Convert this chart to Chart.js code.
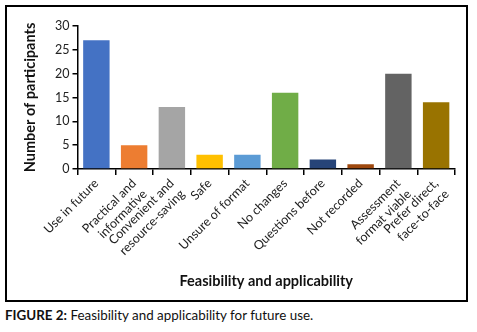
<!DOCTYPE html>
<html>
<head>
<meta charset="utf-8">
<script src="https://cdn.jsdelivr.net/npm/chart.js@4.4.1/dist/chart.umd.min.js"></script>
<style>
    body { margin: 0; background: #fff; width: 477px; height: 332px; position: relative; font-family: Lato, sans-serif; }
    #frame { position: absolute; left: 5px; top: 5px; width: 459px; height: 293px; border: 2px solid #000; }
    #chart-box { position: absolute; left: 0; top: 0; width: 459px; height: 293px; }
    #caption { position: absolute; left: 5px; top: 307px; font-size: 13.4px; color: #111; }
</style>
</head>
<body>
<div id="frame">
    <div id="chart-box"><canvas id="myChart"></canvas></div>
</div>
<div id="caption"><b>FIGURE 2:</b> Feasibility and applicability for future use.</div>
<script>
const categories = [
    'Use in future',
    ['Practical and', 'informative'],
    ['Convenient and', 'resource-saving'],
    'Safe',
    'Unsure of format',
    'No changes',
    'Questions before',
    'Not recorded',
    ['Assessment', 'format viable'],
    ['Prefer direct,', 'face-to-face']
];
const participants = [27, 5, 13, 3, 3, 16, 2, 1, 20, 14];
const barColors = ['#4472C4', '#ED7D31', '#A5A5A5', '#FFC000', '#5B9BD5', '#70AD47', '#264478', '#9E480E', '#636363', '#997300'];
const yTicks = [0, 5, 10, 15, 20, 25, 30];

const ctx = document.getElementById('myChart').getContext('2d');
const chart = new Chart(ctx, {
    type: 'bar',
    data: {
        labels: categories,
        datasets: [{
            data: participants,
            backgroundColor: barColors,
            borderWidth: 0,
            categoryPercentage: 1,
            barPercentage: 0.7
        }]
    },
    options: {
        responsive: true,
        maintainAspectRatio: false,
        animation: false,
        layout: { padding: { top: 19, right: 11, left: 11, bottom: 6 } },
        plugins: { legend: { display: false }, tooltip: { enabled: false } },
        scales: {
            x: {
                grid: { display: true, drawOnChartArea: false, drawTicks: true, tickLength: 6, color: '#000', lineWidth: 1.5 },
                border: { display: true, color: '#000', width: 1.5 },
                ticks: { minRotation: 45, maxRotation: 45, color: '#222', font: { family: 'Lato', size: 12.5 }, padding: 1, autoSkip: false },
                title: { display: true, text: 'Feasibility and applicability', color: '#111', font: { family: 'Lato', size: 14.5, weight: 'bold' }, padding: { top: 4 } },
                afterFit: function (scale) { scale.height = 125; }
            },
            y: {
                min: 0,
                max: 30,
                afterBuildTicks: function (scale) { scale.ticks = yTicks.map(v => ({ value: v })); },
                grid: { display: true, drawOnChartArea: false, drawTicks: true, tickLength: 5, color: '#000', lineWidth: 1.5 },
                border: { display: true, color: '#000', width: 1.5 },
                ticks: { color: '#222', font: { family: 'Lato', size: 12.5 }, padding: 3 },
                title: { display: true, text: 'Number of participants', color: '#111', font: { family: 'Lato', size: 14.5, weight: 'bold' }, padding: { bottom: 6 } },
                afterFit: function (scale) { scale.width = 59.5; }
            }
        }
    }
});
</script>
</body>
</html>
